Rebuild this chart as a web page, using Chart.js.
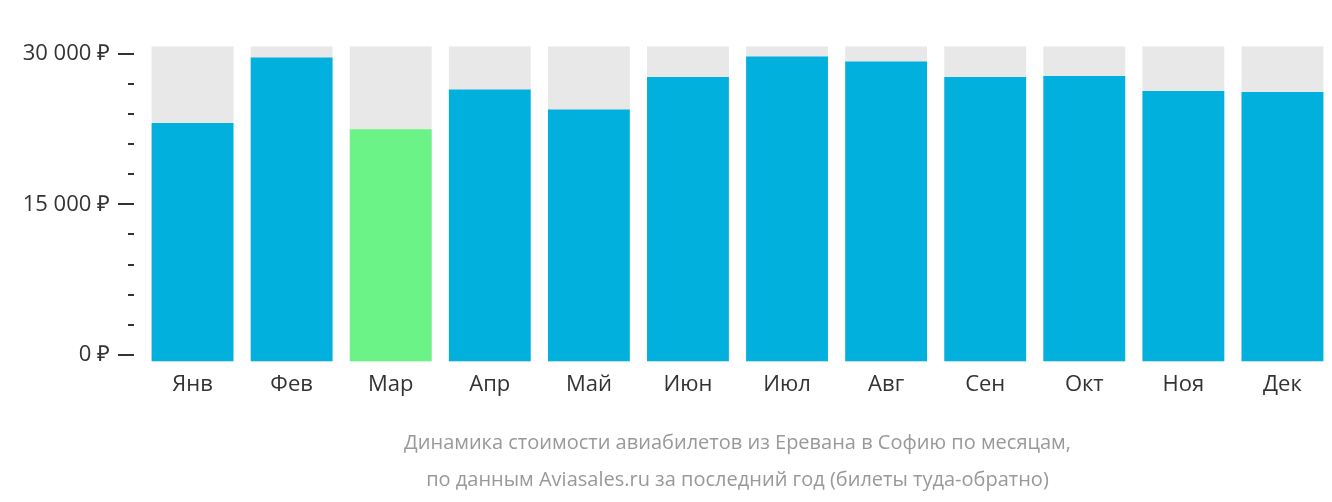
<!DOCTYPE html>
<html><head><meta charset="utf-8">
<script src="https://cdn.jsdelivr.net/npm/chart.js@4/dist/chart.umd.min.js"></script>
<style>html,body{margin:0;padding:0;background:#fff}#w{width:1332px;height:502px}</style>
</head><body><div id="w"><canvas id="c"></canvas></div>
<script>
const categories = ["Янв","Фев","Мар","Апр","Май","Июн","Июл","Авг","Сен","Окт","Ноя","Дек"];
const prices = [23100,29650,22500,26450,24450,27700,29750,29250,27700,27800,26300,26200];
const cheapestIndex = 2;
const yTickValues = [0,3000,6000,9000,12000,15000,18000,21000,24000,27000,30000];
const yLabelValues = [0,15000,30000];
const titleLines = ["Динамика стоимости авиабилетов из Еревана в Софию по месяцам,","по данным Aviasales.ru за последний год (билеты туда-обратно)"];
const Y_MIN = -680, Y_MAX = 30770;

const fmt = v => (v===0?"0":String(v).replace(/\B(?=(\d{3})+(?!\d))/g," ")) + " ₽";

const extras = {
  id:'extras',
  afterDraw(chart){
    const s = chart.scales.y, ctx = chart.ctx, a = chart.chartArea, x = a.left;
    ctx.save(); ctx.strokeStyle='#333'; ctx.lineWidth=2;
    yTickValues.forEach(v=>{
      const y = Math.round(s.getPixelForValue(v));
      const major = yLabelValues.includes(v);
      ctx.beginPath(); ctx.moveTo(x-(major?25:15), y); ctx.lineTo(x-9, y); ctx.stroke();
    });
    ctx.fillStyle='#999'; ctx.font='20px "Open Sans"'; ctx.textAlign='center'; ctx.textBaseline='middle';
    const cx=(a.left+a.right)/2;
    ctx.fillText(titleLines[0],cx,443);
    ctx.fillText(titleLines[1],cx,480);
    ctx.restore();
  }
};

new Chart(document.getElementById('c'),{
  type:'bar',
  data:{labels:categories,datasets:[
    {data:prices,backgroundColor:prices.map((_,i)=>i===cheapestIndex?'#6cf388':'#02b0dd'),order:1,base:Y_MIN,barPercentage:0.826,categoryPercentage:1,grouped:false},
    {data:categories.map(()=>Y_MAX),backgroundColor:'#e8e8e8',order:2,base:Y_MIN,barPercentage:0.826,categoryPercentage:1,grouped:false}
  ]},
  plugins:[extras],
  options:{
    responsive:true,maintainAspectRatio:false,animation:false,
    layout:{padding:{left:0,right:-10,top:0,bottom:94}},
    plugins:{legend:{display:false},tooltip:{enabled:false},title:{display:false}},
    scales:{
      x:{grid:{display:false,drawTicks:false},border:{display:false},ticks:{color:'#333',padding:10,font:{family:'Open Sans',size:22}}},
      y:{min:Y_MIN,max:Y_MAX,grid:{display:false,drawTicks:false},border:{display:false},
        afterBuildTicks(s){s.ticks=yTickValues.map(v=>({value:v}));},
        afterFit(s){s.width=143;},
        ticks:{autoSkip:false,padding:33,color:'#333',font:{family:'Open Sans',size:22},
          callback:v=>yLabelValues.includes(v)?fmt(v):''}}
    }
  }
});
</script></body></html>
